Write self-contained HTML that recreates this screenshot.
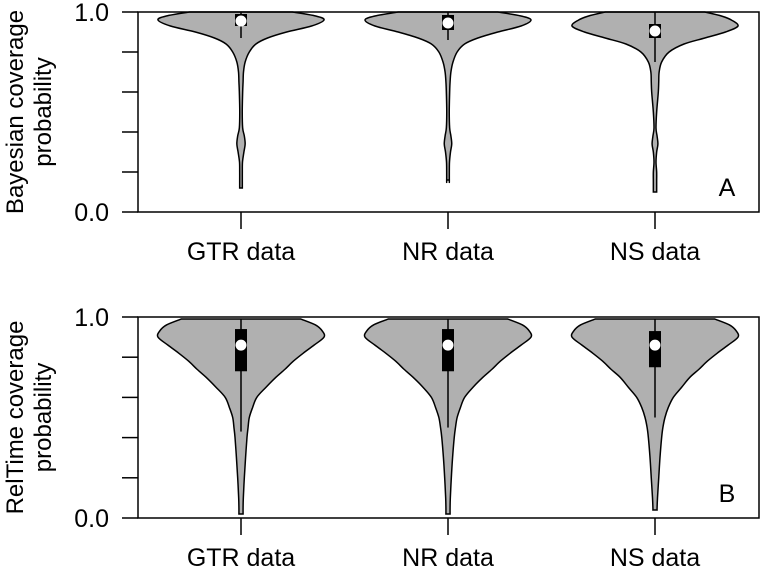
<!DOCTYPE html>
<html><head><meta charset="utf-8"><style>
body{margin:0;background:#fff}
svg text{font-family:"Liberation Sans",sans-serif;fill:#000}
</style></head><body>
<svg id="chart" width="760" height="571" viewBox="0 0 760 571"></svg>
<script>
const categories=["GTR data","NR data","NS data"];
// panel A (Bayesian) density profiles: grid values and relative densities
const gridA=[1.0,0.98,0.96,0.93,0.9,0.87,0.84,0.8,0.75,0.7,0.65,0.6,0.5,0.42,0.38,0.34,0.3,0.25,0.2,0.15];
const densA=[
 [0.62,0.9,1.0,0.85,0.55,0.32,0.18,0.1,0.05,0.03,0.025,0.02,0.015,0.02,0.04,0.05,0.035,0.018,0.016,0.016],
 [0.6,0.88,1.0,0.88,0.6,0.36,0.2,0.11,0.06,0.035,0.025,0.02,0.015,0.02,0.035,0.045,0.03,0.018,0.016,0.016],
 [0.6,0.8,0.92,1.0,0.85,0.6,0.35,0.17,0.08,0.05,0.045,0.04,0.02,0.012,0.025,0.035,0.02,0.012,0.02,0.02]];
const minA=[0.12,0.16,0.10];
const statsA=[[0.87,0.93,0.955,0.99,1.0],[0.86,0.91,0.945,0.985,1.0],[0.75,0.87,0.905,0.94,1.0]];
// panel B (RelTime)
const gridB=[0.99,0.96,0.93,0.9,0.86,0.82,0.78,0.74,0.7,0.65,0.6,0.55,0.5,0.45,0.4,0.3,0.2,0.1,0.05];
const densB=[
 [0.72,0.9,0.98,1.0,0.88,0.75,0.63,0.53,0.42,0.3,0.19,0.14,0.1,0.085,0.072,0.055,0.04,0.028,0.025],
 [0.72,0.9,0.98,1.0,0.88,0.75,0.63,0.53,0.42,0.3,0.2,0.15,0.11,0.09,0.075,0.055,0.04,0.028,0.025],
 [0.72,0.9,0.98,1.0,0.88,0.75,0.63,0.53,0.42,0.32,0.22,0.16,0.12,0.095,0.08,0.06,0.045,0.03,0.025]];
const minB=[0.02,0.02,0.04];
const statsB=[[0.43,0.73,0.86,0.94,0.99],[0.45,0.73,0.86,0.94,0.99],[0.5,0.75,0.86,0.93,0.99]];
const yTicks=[0,0.2,0.4,0.6,0.8,1.0];
const yLabels=["0.0","1.0"];

const NS="http://www.w3.org/2000/svg";
const svg=document.getElementById('chart');
function el(t,a,p){const e=document.createElementNS(NS,t);for(const k in a)e.setAttribute(k,a[k]);(p||svg).appendChild(e);return e;}
const L=138,R=759,xs=i=>241+i*207,HW=83;

function smooth(pts){let d="M"+pts[0][0]+","+pts[0][1];
 for(let i=0;i<pts.length-1;i++){const p0=pts[Math.max(i-1,0)],p1=pts[i],p2=pts[i+1],p3=pts[Math.min(i+2,pts.length-1)];
  const c1=[p1[0]+(p2[0]-p0[0])/6,p1[1]+(p2[1]-p0[1])/6],c2=[p2[0]-(p3[0]-p1[0])/6,p2[1]-(p3[1]-p1[1])/6];
  d+=" C"+c1+" "+c2+" "+p2;}return d;}

function panel(top,bot,grid,dens,mins,stats,title,letter,pid){
 const y=v=>bot-(bot-top)*v;
 const g=el('g',{});
 
 
 categories.forEach((c,i)=>{
  const cx=xs(i);
  const pts=[];grid.forEach((v,k)=>pts.push([cx+dens[i][k]*HW,y(v)]));
  pts.push([cx+dens[i][dens[i].length-1]*HW,y(mins[i])]);
  const left=pts.map(p=>[2*cx-p[0],p[1]]).reverse();
  let d=smooth(pts)+" L"+left[0]+" "+smooth(left).slice(1)+" Z";
  d=d.replace(/ M/," L");
  const v=el('path',{d:d,fill:"#b0b0b0",stroke:"#000","stroke-width":1.5},g);
  
  
  const s=stats[i];
  const w=el('line',{x1:cx,x2:cx,y1:y(s[0]),y2:y(s[4]),stroke:"#000","stroke-width":1.5},g);
  
  
  const b=el('rect',{x:cx-6,y:y(s[3]),width:12,height:y(s[1])-y(s[3]),fill:"#000"},g);
  
  
  const m=el('circle',{cx:cx,cy:y(s[2]),r:5.5,fill:"#fff"},g);
  
  
  el('line',{x1:cx,x2:cx,y1:bot,y2:bot+17,stroke:"#000","stroke-width":1.5},g);
  const t=el('text',{x:cx,y:bot+48,"text-anchor":"middle","font-size":25},g);t.textContent=c;
  
  
 });
 const fr=el('rect',{x:L,y:top,width:R-L,height:bot-top,fill:"none",stroke:"#000","stroke-width":1.5},g);
 
 
 yTicks.forEach(v=>el('line',{x1:122,x2:L,y1:y(v),y2:y(v),stroke:"#000","stroke-width":1.5},g));
 yLabels.forEach(l=>{const t=el('text',{x:109,y:y(parseFloat(l))+9,"text-anchor":"end","font-size":25},g);t.textContent=l;
  
  });
 const cy=(top+bot)/2;
 const t1=el('text',{transform:`translate(23,${cy}) rotate(-90)`,"text-anchor":"middle","font-size":24},g);t1.textContent=title;
 
 
 const t2=el('text',{transform:`translate(51,${cy}) rotate(-90)`,"text-anchor":"middle","font-size":24},g);t2.textContent="probability";
 
 
 const lt=el('text',{x:727,y:bot-16,"text-anchor":"middle","font-size":25},g);lt.textContent=letter;
 
 
}
panel(12,212,gridA,densA,minA,statsA,"Bayesian coverage","A","a");
panel(317,518,gridB,densB,minB,statsB,"RelTime  coverage","B","b");
</script>
</body></html>
